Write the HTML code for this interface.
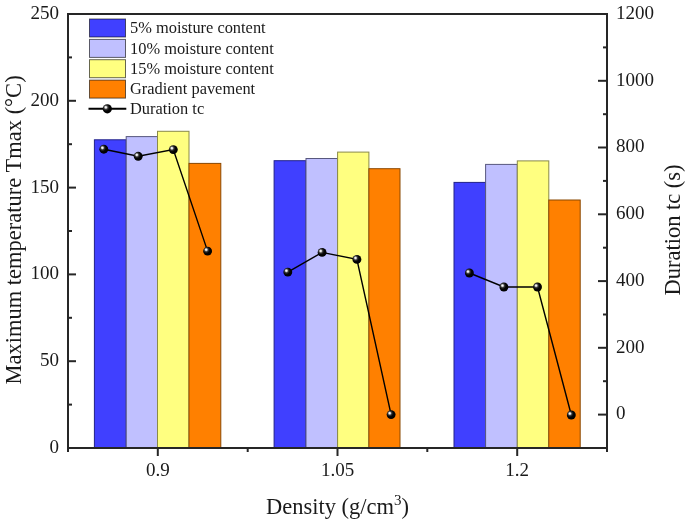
<!DOCTYPE html><html><head><meta charset="utf-8"><style>html,body{margin:0;padding:0;background:#fff;}svg{display:block;will-change:transform;filter:blur(0.3px);}text{font-family:"Liberation Serif",serif;fill:#1a1a1a;}</style></head><body>
<svg width="685" height="522" viewBox="0 0 685 522">
<defs><radialGradient id="g" cx="0.38" cy="0.38" r="0.62" fx="0.33" fy="0.33"><stop offset="0" stop-color="#ffffff"/><stop offset="0.14" stop-color="#e8e8e8"/><stop offset="0.36" stop-color="#383838"/><stop offset="0.6" stop-color="#050505"/><stop offset="1" stop-color="#000"/></radialGradient></defs>
<rect x="94.4" y="139.8" width="31.8" height="308.2" fill="#4040ff" stroke="#22228a" stroke-width="1"/>
<rect x="126.2" y="136.6" width="31.3" height="311.4" fill="#c0c0ff" stroke="#58587e" stroke-width="1"/>
<rect x="157.5" y="131.3" width="31.5" height="316.7" fill="#ffff80" stroke="#8a8a48" stroke-width="1"/>
<rect x="189.0" y="163.4" width="31.8" height="284.6" fill="#ff8000" stroke="#8a4800" stroke-width="1"/>
<rect x="274.1" y="160.7" width="31.9" height="287.3" fill="#4040ff" stroke="#22228a" stroke-width="1"/>
<rect x="306.0" y="158.5" width="31.6" height="289.5" fill="#c0c0ff" stroke="#58587e" stroke-width="1"/>
<rect x="337.6" y="152.1" width="31.3" height="295.9" fill="#ffff80" stroke="#8a8a48" stroke-width="1"/>
<rect x="368.9" y="168.7" width="31.1" height="279.3" fill="#ff8000" stroke="#8a4800" stroke-width="1"/>
<rect x="454.0" y="182.4" width="31.6" height="265.6" fill="#4040ff" stroke="#22228a" stroke-width="1"/>
<rect x="485.6" y="164.4" width="31.7" height="283.6" fill="#c0c0ff" stroke="#58587e" stroke-width="1"/>
<rect x="517.3" y="160.9" width="31.5" height="287.1" fill="#ffff80" stroke="#8a8a48" stroke-width="1"/>
<rect x="548.8" y="200.0" width="31.4" height="248.0" fill="#ff8000" stroke="#8a4800" stroke-width="1"/>
<path d="M103.8,149.2 L138.2,156.3 L173.3,149.6 L207.6,251.1" fill="none" stroke="#000" stroke-width="1.4"/>
<path d="M287.8,272.1 L322.1,252.4 L356.9,259.4 L391.1,414.6" fill="none" stroke="#000" stroke-width="1.4"/>
<path d="M469.4,273.0 L503.9,287.0 L537.5,287.0 L571.3,415.0" fill="none" stroke="#000" stroke-width="1.4"/>
<circle cx="103.8" cy="149.2" r="4.45" fill="url(#g)"/>
<circle cx="138.2" cy="156.3" r="4.45" fill="url(#g)"/>
<circle cx="173.3" cy="149.6" r="4.45" fill="url(#g)"/>
<circle cx="207.6" cy="251.1" r="4.45" fill="url(#g)"/>
<circle cx="287.8" cy="272.1" r="4.45" fill="url(#g)"/>
<circle cx="322.1" cy="252.4" r="4.45" fill="url(#g)"/>
<circle cx="356.9" cy="259.4" r="4.45" fill="url(#g)"/>
<circle cx="391.1" cy="414.6" r="4.45" fill="url(#g)"/>
<circle cx="469.4" cy="273.0" r="4.45" fill="url(#g)"/>
<circle cx="503.9" cy="287.0" r="4.45" fill="url(#g)"/>
<circle cx="537.5" cy="287.0" r="4.45" fill="url(#g)"/>
<circle cx="571.3" cy="415.0" r="4.45" fill="url(#g)"/>
<rect x="68.0" y="14.0" width="539.0" height="434.0" fill="none" stroke="#262626" stroke-width="2"/>
<line x1="68.0" y1="448.0" x2="76.0" y2="448.0" stroke="#262626" stroke-width="2"/>
<text x="59" y="453.0" font-size="19" text-anchor="end">0</text>
<line x1="68.0" y1="404.6" x2="72.0" y2="404.6" stroke="#262626" stroke-width="2"/>
<line x1="68.0" y1="361.2" x2="76.0" y2="361.2" stroke="#262626" stroke-width="2"/>
<text x="59" y="366.2" font-size="19" text-anchor="end">50</text>
<line x1="68.0" y1="317.8" x2="72.0" y2="317.8" stroke="#262626" stroke-width="2"/>
<line x1="68.0" y1="274.4" x2="76.0" y2="274.4" stroke="#262626" stroke-width="2"/>
<text x="59" y="279.4" font-size="19" text-anchor="end">100</text>
<line x1="68.0" y1="231.0" x2="72.0" y2="231.0" stroke="#262626" stroke-width="2"/>
<line x1="68.0" y1="187.6" x2="76.0" y2="187.6" stroke="#262626" stroke-width="2"/>
<text x="59" y="192.6" font-size="19" text-anchor="end">150</text>
<line x1="68.0" y1="144.2" x2="72.0" y2="144.2" stroke="#262626" stroke-width="2"/>
<line x1="68.0" y1="100.8" x2="76.0" y2="100.8" stroke="#262626" stroke-width="2"/>
<text x="59" y="105.8" font-size="19" text-anchor="end">200</text>
<line x1="68.0" y1="57.4" x2="72.0" y2="57.4" stroke="#262626" stroke-width="2"/>
<line x1="68.0" y1="14.0" x2="76.0" y2="14.0" stroke="#262626" stroke-width="2"/>
<text x="59" y="19.0" font-size="19" text-anchor="end">250</text>
<line x1="607.0" y1="448.0" x2="603.0" y2="448.0" stroke="#262626" stroke-width="2"/>
<line x1="607.0" y1="414.6" x2="598.0" y2="414.6" stroke="#262626" stroke-width="2"/>
<text x="616" y="419.4" font-size="19">0</text>
<line x1="607.0" y1="381.2" x2="603.0" y2="381.2" stroke="#262626" stroke-width="2"/>
<line x1="607.0" y1="347.8" x2="598.0" y2="347.8" stroke="#262626" stroke-width="2"/>
<text x="616" y="352.6" font-size="19">200</text>
<line x1="607.0" y1="314.5" x2="603.0" y2="314.5" stroke="#262626" stroke-width="2"/>
<line x1="607.0" y1="281.1" x2="598.0" y2="281.1" stroke="#262626" stroke-width="2"/>
<text x="616" y="285.9" font-size="19">400</text>
<line x1="607.0" y1="247.7" x2="603.0" y2="247.7" stroke="#262626" stroke-width="2"/>
<line x1="607.0" y1="214.3" x2="598.0" y2="214.3" stroke="#262626" stroke-width="2"/>
<text x="616" y="219.1" font-size="19">600</text>
<line x1="607.0" y1="180.9" x2="603.0" y2="180.9" stroke="#262626" stroke-width="2"/>
<line x1="607.0" y1="147.5" x2="598.0" y2="147.5" stroke="#262626" stroke-width="2"/>
<text x="616" y="152.3" font-size="19">800</text>
<line x1="607.0" y1="114.2" x2="603.0" y2="114.2" stroke="#262626" stroke-width="2"/>
<line x1="607.0" y1="80.8" x2="598.0" y2="80.8" stroke="#262626" stroke-width="2"/>
<text x="616" y="85.6" font-size="19">1000</text>
<line x1="607.0" y1="47.4" x2="603.0" y2="47.4" stroke="#262626" stroke-width="2"/>
<line x1="607.0" y1="14.0" x2="598.0" y2="14.0" stroke="#262626" stroke-width="2"/>
<text x="616" y="18.8" font-size="19">1200</text>
<line x1="68.0" y1="448.0" x2="68.0" y2="452.0" stroke="#262626" stroke-width="2"/>
<line x1="157.8" y1="448.0" x2="157.8" y2="456.0" stroke="#262626" stroke-width="2"/>
<line x1="247.7" y1="448.0" x2="247.7" y2="452.0" stroke="#262626" stroke-width="2"/>
<line x1="337.5" y1="448.0" x2="337.5" y2="456.0" stroke="#262626" stroke-width="2"/>
<line x1="427.3" y1="448.0" x2="427.3" y2="452.0" stroke="#262626" stroke-width="2"/>
<line x1="517.2" y1="448.0" x2="517.2" y2="456.0" stroke="#262626" stroke-width="2"/>
<line x1="607.0" y1="448.0" x2="607.0" y2="452.0" stroke="#262626" stroke-width="2"/>
<text x="157.8" y="476" font-size="19" text-anchor="middle">0.9</text>
<text x="337.5" y="476" font-size="19" text-anchor="middle">1.05</text>
<text x="517.2" y="476" font-size="19" text-anchor="middle">1.2</text>
<rect x="89.5" y="19.0" width="36" height="18" fill="#4040ff" stroke="rgba(0,0,0,0.6)" stroke-width="1"/>
<text x="130" y="33.1" font-size="16.4">5% moisture content</text>
<rect x="89.5" y="39.4" width="36" height="18" fill="#c0c0ff" stroke="rgba(0,0,0,0.6)" stroke-width="1"/>
<text x="130" y="53.5" font-size="16.4">10% moisture content</text>
<rect x="89.5" y="59.7" width="36" height="18" fill="#ffff80" stroke="rgba(0,0,0,0.6)" stroke-width="1"/>
<text x="130" y="73.8" font-size="16.4">15% moisture content</text>
<rect x="89.5" y="80.1" width="36" height="18" fill="#ff8000" stroke="rgba(0,0,0,0.6)" stroke-width="1"/>
<text x="130" y="94.2" font-size="16.4">Gradient pavement</text>
<line x1="88.5" y1="108.8" x2="126.3" y2="108.8" stroke="#000" stroke-width="2"/>
<circle cx="107.3" cy="108.8" r="4.6" fill="url(#g)"/>
<text x="130" y="114.2" font-size="16.4">Duration tc</text>
<text transform="translate(21.3,384.5) rotate(-90)" font-size="22.5">Maximum temperature Tmax (°C)</text>
<text transform="translate(679.5,295.6) rotate(-90)" font-size="22.5">Duration tc (s)</text>
<text x="266" y="514" font-size="22.5">Density (g/cm<tspan font-size="15" dy="-9.5">3</tspan><tspan dy="9.5">)</tspan></text>
</svg></body></html>
